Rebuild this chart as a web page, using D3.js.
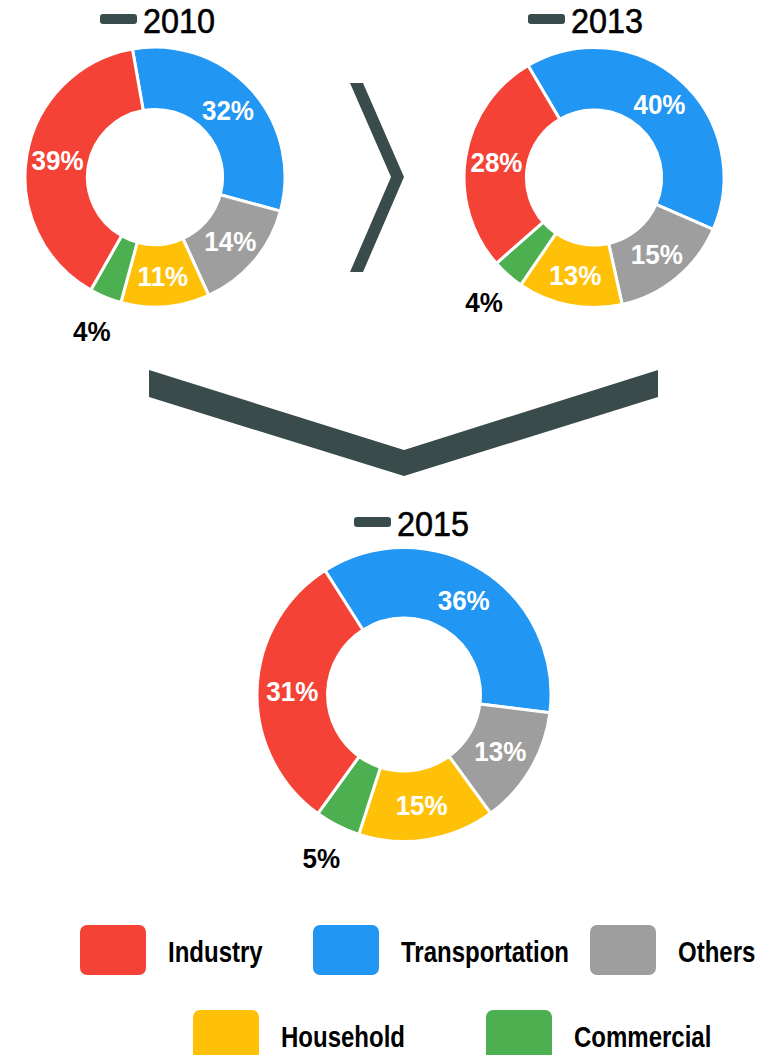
<!DOCTYPE html>
<html>

<head>
    <title>Energy share donuts</title>
    <script src="https://cdnjs.cloudflare.com/ajax/libs/d3/7.8.5/d3.min.js"></script>
</head>

<body>
    <style>
        html,
        body {
            margin: 0;
            padding: 0;
            background-color: white;
            width: 764px;
            height: 1055px;
            overflow: hidden;
        }

        svg text {
            font-family: "Liberation Sans", Arial, sans-serif;
        }
    </style>
    <div id="chart"></div>

    <script>
        // data
        const categories = ["Transportation", "Others", "Household", "Commercial", "Industry"];
        const years = ["2010", "2013", "2015"];
        const shares2010 = [32, 14, 11, 4, 39];
        const shares2013 = [40, 15, 13, 4, 28];
        const shares2015 = [36, 13, 15, 5, 31];
        const legendOrder = ["Industry", "Transportation", "Others", "Household", "Commercial"];

        const allShares = [shares2010, shares2013, shares2015];

        const colors = d3.scaleOrdinal()
            .domain(["Industry", "Transportation", "Others", "Household", "Commercial"])
            .range(["#F44336", "#2196F3", "#9E9E9E", "#FFC107", "#4CAF50"]);

        const dark = "#394B4A";

        // layout of each donut (center, radius, rotation, title position)
        const layout = [
            { cx: 155, cy: 177, r: 130, start: -10, dashX: 100, titleY: 33 },
            { cx: 594, cy: 177.5, r: 130, start: -30.5, dashX: 528, titleY: 33 },
            { cx: 404, cy: 694.5, r: 147, start: -32.5, dashX: 354, titleY: 536 }
        ];

        // narrow look: liberation sans squeezed horizontally
        const squeeze = (x, y, s) => "translate(" + x + "," + y + ") scale(" + s + ",1)";

        const svg = d3.select("#chart")
            .append("svg")
            .attr("width", 764)
            .attr("height", 1055);

        // arrows
        svg.append("polygon")
            .attr("points", "350,83 363,83 404,177 363,272 350,272 391,177")
            .attr("fill", dark);

        svg.append("polygon")
            .attr("points", "149,370 404,450 658,370 658,397 404,476 149,397")
            .attr("fill", dark);

        years.forEach((year, i) => {
            const L = layout[i];
            const a0 = L.start * Math.PI / 180;

            const pie = d3.pie()
                .sort(null)
                .value(d => d.value)
                .startAngle(a0)
                .endAngle(a0 + 2 * Math.PI);

            const arc = d3.arc()
                .innerRadius(L.r * 0.52)
                .outerRadius(L.r);

            const outerLabel = d3.arc()
                .innerRadius(L.r + 36)
                .outerRadius(L.r + 36);

            const rows = categories.map((c, j) => ({ name: c, value: allShares[i][j] }));

            const g = svg.append("g")
                .attr("transform", "translate(" + L.cx + "," + L.cy + ")");

            const slices = pie(rows);

            g.selectAll("path")
                .data(slices)
                .enter()
                .append("path")
                .attr("d", arc)
                .attr("fill", d => colors(d.data.name))
                .attr("stroke", "white")
                .attr("stroke-width", 3)
                .attr("stroke-linejoin", "round");

            g.selectAll("text.pct")
                .data(slices)
                .enter()
                .append("text")
                .attr("class", "pct")
                .attr("transform", d => {
                    const p = d.data.value < 6 ? outerLabel.centroid(d) : arc.centroid(d);
                    return squeeze(p[0], p[1], 0.93);
                })
                .attr("text-anchor", "middle")
                .attr("dy", "0.36em")
                .attr("font-size", 28)
                .attr("font-weight", "bold")
                .attr("fill", d => d.data.value < 6 ? "black" : "white")
                .text(d => d.data.value + "%");

            // title with dash
            svg.append("rect")
                .attr("x", L.dashX)
                .attr("y", L.titleY - 19)
                .attr("width", 37)
                .attr("height", 10)
                .attr("rx", 3)
                .attr("fill", dark);

            svg.append("text")
                .attr("transform", squeeze(L.dashX + 43, L.titleY, 0.9))
                .attr("font-size", 36)
                .attr("fill", "black")
                .attr("stroke", "black")
                .attr("stroke-width", 0.6)
                .text(year);
        });

        // legend
        const legendSlots = [
            { x: 80, y: 925 }, { x: 313, y: 925 }, { x: 590, y: 925 },
            { x: 193, y: 1010 }, { x: 486, y: 1010 }
        ];

        const legend = svg.selectAll("g.legend")
            .data(legendOrder)
            .enter()
            .append("g")
            .attr("class", "legend")
            .attr("transform", (d, i) => "translate(" + legendSlots[i].x + "," + legendSlots[i].y + ")");

        legend.append("rect")
            .attr("width", 66)
            .attr("height", 50)
            .attr("rx", 7)
            .attr("fill", d => colors(d));

        legend.append("text")
            .attr("transform", squeeze(88, 37, 0.8))
            .attr("font-size", 30)
            .attr("font-weight", "bold")
            .attr("fill", "black")
            .text(d => d);
    </script>
</body>

</html>
